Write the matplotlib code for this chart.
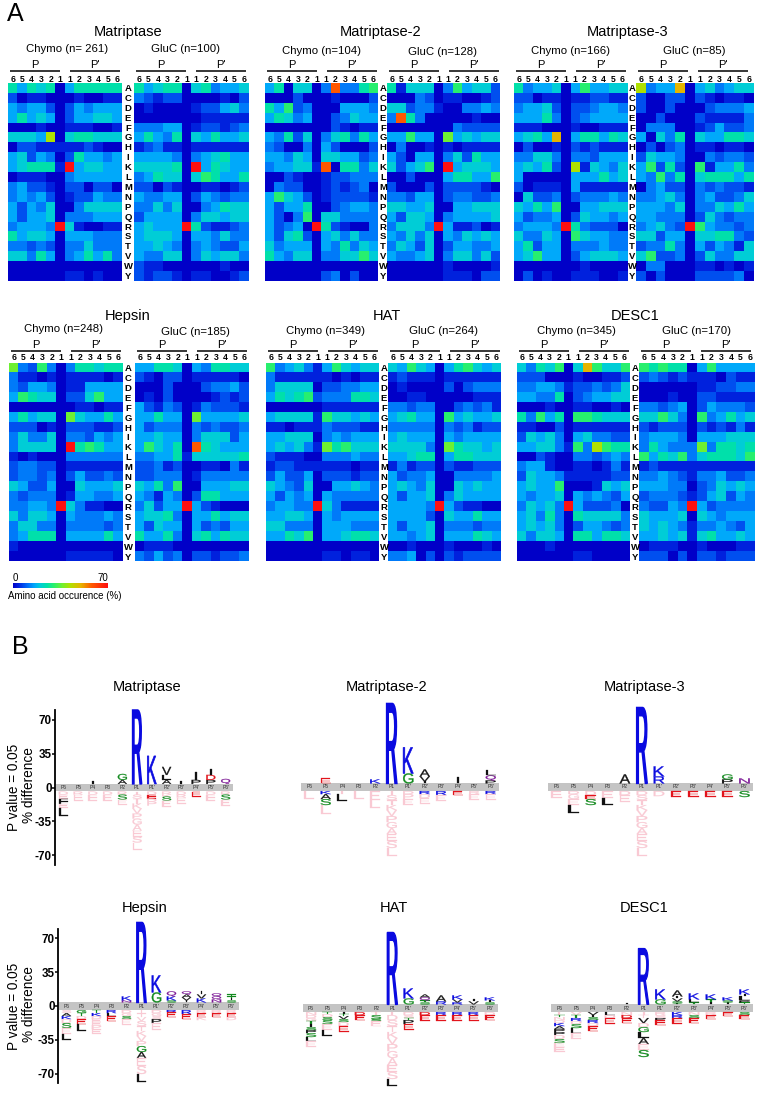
import matplotlib
matplotlib.use("Agg")
import matplotlib.pyplot as plt
import numpy as np
from matplotlib.colors import LinearSegmentedColormap, Normalize
from matplotlib.cm import ScalarMappable
from matplotlib.font_manager import FontProperties
from matplotlib.patches import PathPatch
from matplotlib.textpath import TextPath
from matplotlib.transforms import Affine2D

plt.rcParams['font.family'] = ['Liberation Sans', 'DejaVu Sans']

W, H = 765, 1106
residues = list("ACDEFGHIKLMNPQRSTVWY")
site_numbers = ['6', '5', '4', '3', '2', '1', '1', '2', '3', '4', '5', '6']
site_names = ['P6', 'P5', 'P4', 'P3', 'P2', 'P1', "P1'", "P2'", "P3'", "P4'", "P5'", "P6'"]

matriptase_chymo = [
 [25,16,25,20,25,0,16,25,25,25,25,25],[8,0,4,4,0,0,0,4,0,0,4,4],[16,12,16,16,8,0,8,16,12,16,16,16],
 [16,25,16,20,16,0,8,16,16,20,20,16],[0,0,0,4,0,0,4,4,4,0,0,4],[20,20,20,16,42,0,20,25,25,20,20,20],
 [0,8,8,4,4,4,4,4,8,4,0,0],[16,20,8,16,12,0,8,25,16,16,12,16],[16,20,25,25,25,4,70,16,20,20,16,16],
 [0,4,4,4,0,0,12,16,16,16,16,16],[12,16,8,8,4,0,8,8,0,8,8,0],[12,16,12,16,8,0,4,8,8,16,12,12],
 [16,8,16,12,20,0,0,12,20,20,20,20],[16,8,16,16,20,0,12,12,12,16,16,16],[12,16,16,16,12,70,20,4,0,0,4,4],
 [25,16,20,20,16,0,16,16,16,12,12,12],[12,12,8,12,8,0,12,12,20,12,12,12],[20,20,12,25,16,0,12,16,25,16,25,12],
 [0,0,0,0,0,0,0,0,0,0,0,0],[0,0,0,0,0,0,4,4,0,4,0,0]]
matriptase_gluc = [
 [25,16,20,25,25,0,20,25,12,16,16,20],[12,8,4,8,8,0,0,0,0,4,0,8],[0,4,0,0,0,0,4,8,8,16,20,12],
 [0,0,0,0,0,0,0,4,4,4,4,4],[12,12,12,16,16,0,4,8,8,4,8,12],[16,25,16,12,25,0,20,16,25,16,16,20],
 [4,8,12,4,4,0,4,4,4,4,4,4],[16,16,16,16,12,0,12,16,20,25,16,16],[20,20,20,20,25,0,70,16,25,20,16,16],
 [12,16,25,20,20,0,20,30,25,16,16,25],[8,8,0,8,4,0,0,4,4,0,4,8],[16,12,12,16,16,0,8,16,12,8,12,12],
 [12,12,20,12,20,0,0,12,16,25,20,20],[8,16,16,16,16,0,12,20,20,16,20,20],[16,20,16,16,16,70,25,8,4,4,8,12],
 [16,20,20,20,16,0,16,16,12,20,12,12],[16,16,20,16,12,0,12,16,12,8,8,16],[16,12,12,20,20,0,12,20,16,20,20,12],
 [8,4,4,0,0,0,0,0,0,4,0,0],[8,4,8,8,4,0,4,4,0,0,4,8]]
matriptase2_chymo = [
 [16,25,0,20,20,0,12,58,12,12,25,30],[0,0,0,8,0,0,0,4,0,0,0,8],[25,16,30,8,12,0,0,0,16,16,16,12],
 [16,25,20,12,16,0,0,8,12,20,16,16],[0,0,0,0,0,0,0,8,4,0,4,4],[16,12,25,8,20,0,12,20,25,12,25,16],
 [12,8,0,0,12,0,16,8,0,0,0,8],[16,16,12,20,16,0,20,20,16,16,8,12],[12,16,16,20,20,4,58,0,25,25,12,20],
 [0,0,8,4,0,0,4,8,8,12,12,12],[0,12,8,8,0,0,4,8,4,8,12,0],[16,30,20,16,8,0,4,8,8,8,8,4],
 [16,8,16,16,25,0,0,8,12,16,16,12],[16,8,0,12,30,0,20,20,12,12,12,12],[16,8,12,16,0,70,25,8,4,0,0,12],
 [16,8,20,25,8,0,16,20,12,20,12,12],[20,12,16,16,16,0,16,12,25,12,20,16],[25,16,12,20,20,0,12,12,20,20,30,20],
 [0,0,0,0,0,0,0,0,0,0,0,0],[0,0,0,0,0,0,8,12,0,8,0,0]]
matriptase2_gluc = [
 [25,4,20,20,20,0,12,30,16,20,20,8],[0,0,0,12,8,0,4,4,0,0,4,8],[20,20,8,12,12,4,0,0,12,12,16,12],
 [12,58,25,12,0,0,0,0,0,4,0,0],[0,0,0,0,0,0,0,12,8,8,8,8],[16,16,30,16,16,0,36,16,20,16,20,20],
 [0,12,0,0,4,0,4,0,4,4,4,4],[16,8,0,16,16,0,12,20,8,25,16,16],[20,8,16,20,30,0,70,16,20,20,20,16],
 [0,0,8,0,0,0,16,25,25,16,16,30],[8,0,0,0,8,0,8,8,8,8,4,0],[12,12,8,16,16,0,8,12,12,8,8,12],
 [20,20,16,16,20,0,0,16,16,20,20,20],[16,8,20,20,16,0,12,16,16,16,16,20],[12,20,20,20,12,70,16,4,4,8,0,4],
 [16,12,20,12,20,0,16,12,20,16,20,16],[12,20,16,8,20,0,8,16,16,12,12,16],[16,12,12,16,20,0,12,20,20,12,20,8],
 [0,0,0,0,0,0,4,0,0,0,0,4],[0,0,0,0,0,0,4,4,4,0,8,8]]
matriptase3_chymo = [
 [25,12,16,16,20,0,16,30,16,16,20,20],[8,8,0,4,4,0,4,4,8,8,4,4],[12,16,16,20,8,0,8,8,12,16,16,12],
 [16,16,16,25,12,0,8,12,16,16,16,16],[4,4,4,0,0,0,4,0,0,4,4,4],[16,20,25,16,50,0,16,25,25,16,25,20],
 [0,8,0,0,4,0,8,4,8,4,4,4],[12,12,20,20,12,0,12,12,8,16,16,16],[16,20,16,25,8,0,42,4,20,16,12,20],
 [16,0,0,0,0,0,16,16,16,25,16,20],[8,0,4,4,4,0,16,4,4,4,4,4],[0,20,8,8,12,0,8,12,12,12,16,12],
 [20,16,25,16,30,0,0,16,16,20,20,20],[16,8,12,12,16,0,8,20,16,16,12,16],[12,16,16,16,12,70,25,12,8,8,8,0],
 [20,12,12,20,16,0,30,20,16,16,12,12],[16,25,8,16,16,0,12,12,12,16,12,12],[16,20,30,16,16,0,8,16,20,20,20,16],
 [0,0,0,0,0,0,0,4,0,0,0,0],[0,8,0,4,0,0,4,4,4,0,0,4]]
matriptase3_gluc = [
 [42,12,16,16,50,0,16,20,12,16,20,20],[8,0,0,8,8,0,8,4,0,4,4,0],[8,0,0,8,0,0,0,8,12,12,12,16],
 [0,0,8,0,0,0,8,4,4,4,4,12],[0,12,12,12,0,0,4,8,16,8,8,12],[16,0,20,12,25,0,20,16,16,25,25,20],
 [0,8,0,8,12,0,4,4,0,4,4,0],[8,20,16,16,12,0,0,12,8,12,12,8],[16,30,8,25,8,0,30,4,16,16,25,12],
 [16,12,30,12,25,0,20,25,25,25,16,25],[0,12,16,8,8,0,12,8,12,8,8,4],[12,12,16,20,12,0,12,16,8,8,12,20],
 [16,16,16,12,20,0,12,12,20,16,25,16],[16,16,12,12,12,0,8,20,12,8,12,12],[12,16,20,12,8,70,30,16,12,12,8,12],
 [20,20,8,16,16,0,20,20,25,25,12,8],[8,12,12,25,12,0,16,8,16,12,4,20],[20,30,8,8,12,0,8,20,12,12,20,20],
 [0,12,12,0,0,0,4,4,0,4,0,4],[8,0,8,0,0,0,8,8,8,8,12,0]]
hepsin_chymo = [
 [36,12,8,30,12,0,12,25,25,20,25,25],[12,4,4,0,4,0,4,4,4,4,0,4],[12,8,16,16,12,0,4,4,16,16,16,16],
 [16,30,25,20,20,0,8,8,20,30,16,16],[0,0,0,0,0,0,0,4,4,0,4,4],[16,25,16,20,20,0,36,20,16,16,25,16],
 [8,8,8,0,4,0,8,8,8,4,4,8],[12,20,12,12,20,0,12,12,8,16,12,16],[12,20,20,20,20,0,70,25,30,25,16,16],
 [4,0,4,0,0,0,12,12,12,12,12,12],[8,12,12,8,8,0,4,4,4,4,4,4],[8,12,12,8,12,0,8,16,8,8,12,8],
 [20,16,8,8,16,0,0,20,16,16,16,20],[12,8,12,12,12,0,4,16,16,12,12,16],[12,12,16,16,12,70,20,12,4,4,0,0],
 [20,12,20,20,16,0,16,12,12,12,16,12],[12,20,20,12,12,0,12,12,12,12,8,12],[12,16,25,25,25,0,16,16,16,16,25,16],
 [4,0,0,0,0,0,0,0,0,0,0,0],[0,0,0,0,0,0,4,4,4,4,4,0]]
hepsin_gluc = [
 [16,16,25,25,20,0,16,12,25,25,20,20],[8,4,0,8,8,0,4,4,4,4,4,0],[0,0,0,8,0,0,0,8,12,12,16,8],
 [0,4,0,8,0,0,0,0,4,8,4,8],[16,8,4,12,8,0,4,12,8,8,8,4],[16,16,25,16,16,0,36,16,16,16,16,20],
 [16,8,12,12,12,0,12,8,12,8,8,12],[16,16,20,16,16,0,12,20,20,20,8,16],[16,30,20,16,25,0,58,25,20,16,16,16],
 [12,12,16,16,25,4,20,20,20,20,20,25],[8,8,12,4,8,0,0,4,4,0,12,4],[8,8,12,12,12,0,4,12,12,12,12,12],
 [20,16,25,12,30,0,0,16,16,16,20,20],[16,12,4,16,12,0,8,25,25,16,16,16],[12,20,8,16,16,70,16,8,4,0,0,0],
 [16,20,20,25,12,0,16,16,25,16,20,20],[16,8,20,16,16,0,16,8,12,8,16,16],[25,16,16,25,12,0,20,25,16,25,20,20],
 [0,4,4,4,0,0,0,0,0,0,0,0],[12,8,16,8,12,0,8,8,4,8,8,12]]
hat_chymo = [
 [30,12,16,20,12,4,16,30,20,16,20,20],[12,4,4,4,4,4,4,0,4,0,4,4],[12,20,20,20,20,0,8,8,12,12,16,16],
 [16,25,20,25,30,8,12,12,12,25,25,20],[0,0,0,0,0,0,4,4,4,4,4,4],[16,20,20,20,20,4,30,20,20,16,20,16],
 [4,4,0,4,4,4,12,8,8,8,4,4],[16,16,20,20,20,0,12,16,12,16,16,16],[16,20,16,20,12,4,36,25,30,20,20,20],
 [8,4,4,4,0,0,12,12,12,16,12,12],[4,8,8,4,4,4,4,4,4,0,4,4],[8,16,8,8,16,0,8,8,8,4,8,8],
 [20,16,12,8,20,0,0,16,16,20,16,12],[16,8,16,12,16,0,16,12,12,12,12,12],[12,16,16,12,12,70,20,12,4,4,4,4],
 [16,16,20,20,16,0,16,12,16,16,16,16],[20,20,12,12,12,0,16,16,16,12,12,12],[16,16,25,20,30,0,16,16,20,25,25,20],
 [0,0,0,0,0,0,0,0,0,0,0,0],[0,0,0,0,0,0,4,4,0,4,4,0]]
hat_gluc = [
 [20,16,30,20,16,0,16,25,30,20,16,20],[4,8,4,4,4,0,4,4,4,4,4,4],[0,4,0,0,0,0,8,0,8,12,12,12],
 [0,0,4,4,0,0,0,0,0,4,4,4],[12,12,8,12,12,0,0,8,12,8,12,4],[16,20,25,16,16,0,30,16,20,16,16,20],
 [12,12,12,12,12,0,12,8,12,4,8,8],[16,20,16,16,16,0,16,12,16,16,16,16],[20,20,20,20,12,0,36,25,20,20,16,20],
 [16,16,20,25,25,0,16,25,25,20,20,20],[4,12,4,8,8,0,8,4,4,8,8,8],[16,8,12,12,16,0,0,12,12,12,12,16],
 [16,20,16,12,20,0,0,20,16,20,16,16],[16,8,16,16,20,0,12,20,16,16,16,16],[16,16,16,16,12,70,16,8,4,4,0,0],
 [16,16,16,16,8,0,20,16,16,25,16,16],[16,8,16,16,20,0,12,12,12,8,12,12],[16,16,12,16,20,0,16,16,16,25,20,16],
 [0,0,4,0,0,0,4,0,0,0,4,0],[12,12,16,0,8,0,8,4,8,8,8,8]]
desc1_chymo = [
 [20,12,25,20,30,0,20,50,30,20,20,30],[8,8,8,0,0,0,4,0,0,4,4,8],[12,12,16,16,12,4,8,8,12,8,12,20],
 [16,16,12,12,25,0,8,12,16,16,20,20],[0,0,0,4,0,0,4,4,0,0,4,0],[25,12,30,16,25,0,30,30,25,20,20,20],
 [4,4,0,0,8,0,4,4,4,4,4,4],[8,20,16,20,12,0,16,20,12,12,8,8],[16,16,20,20,12,4,30,12,42,30,25,25],
 [0,0,8,4,0,0,12,12,8,12,16,12],[12,16,16,4,0,0,4,4,0,4,12,4],[8,20,16,16,12,4,4,4,4,4,8,8],
 [16,20,16,16,30,0,0,0,4,20,16,20],[16,12,16,16,20,0,16,12,16,12,8,16],[12,20,16,20,12,70,16,8,8,8,12,0],
 [16,20,12,25,12,0,25,20,20,20,20,12],[16,20,16,20,12,0,8,16,16,12,8,12],[20,12,20,20,16,0,25,25,16,25,25,20],
 [0,0,0,4,0,0,0,0,0,0,0,0],[0,0,0,0,0,0,4,4,0,0,0,0]]
desc1_gluc = [
 [30,25,30,25,25,0,16,30,16,16,16,16],[8,12,8,4,8,4,4,4,0,8,4,4],[0,0,0,0,0,0,4,4,8,8,12,12],
 [0,0,0,4,0,0,8,8,4,4,4,4],[12,12,8,12,16,0,8,16,12,12,12,8],[20,20,30,20,12,0,30,12,16,25,16,20],
 [8,4,8,8,8,0,8,4,8,4,12,4],[12,16,16,16,12,0,16,16,16,20,20,20],[12,25,16,12,12,12,36,12,25,25,20,25],
 [30,16,25,20,30,12,20,25,25,25,20,30],[4,8,4,4,4,4,4,4,4,4,4,4],[12,12,16,12,8,4,12,12,16,8,8,12],
 [16,16,16,12,12,0,8,12,20,16,20,16],[8,12,12,12,8,4,8,16,20,8,16,12],[12,8,8,16,12,70,16,8,12,12,12,12],
 [20,16,16,16,20,0,20,16,12,16,16,16],[20,16,20,16,12,4,12,12,16,12,8,16],[16,16,20,16,20,4,20,25,16,16,20,16],
 [0,4,4,4,0,0,4,0,0,0,4,4],[8,8,8,0,8,0,8,8,4,8,8,8]]

# Logo stacks, one list per site (P6 .. P6'). Upper case = significant, lower case = faded pink.
pink_p1 = [('i',3),('s',4),('t',5),('k',5),('v',5),('p',5),('g',6),('a',6),('e',6),('s',6),('l',7)]
logo_matriptase_up = [[],[],[('I',3)],[],[('A',4),('G',6)],[('R',74)],[('K',28)],[('A',4),('L',5),('V',8)],[('I',3)],[('P',4),('I',8)],[('P',4),('D',5),('I',6)],[('Q',5)]]
logo_matriptase_down = [[('d',3),('e',4),('F',5),('e',4),('L',8)],[('r',3),('e',6)],[('d',3),('e',6)],[('d',3),('e',6)],[('r',3),('S',5),('e',5)],pink_p1,[('d',3),('E',4),('d',3),('p',4)],[('r',3),('k',2),('S',4),('e',6)],[('d',3),('r',3),('e',6)],[('E',5)],[('d',3),('e',6)],[('r',3),('S',5),('e',6)]]
logo_matriptase2_up = [[],[('E',5)],[],[],[('K',4)],[('R',80)],[('G',10),('K',26)],[('I',2),('V',5),('A',7)],[],[('I',6)],[],[('P',3),('Q',5),('L',5)]]
logo_matriptase2_down = [[('l',8)],[('K',3),('A',5),('S',6),('l',9)],[('i',3),('L',7)],[('l',8)],[('e',9),('l',8)],[('i',4),('s',5),('t',5),('k',5),('v',6),('p',6),('g',6),('a',6),('e',7),('s',7),('l',8)],[('d',3),('p',5),('e',6)],[('R',3),('d',4),('e',6)],[('R',4),('e',6)],[('E',4)],[('r',3),('e',6)],[('R',3),('e',6)]]
logo_matriptase3_up = [[],[],[],[],[('A',9)],[('R',76)],[('R',7),('K',10)],[],[],[],[('P',4),('G',5)],[('N',5)]]
logo_matriptase3_down = [[('e',7)],[('d',3),('g',5),('e',6),('L',8)],[('d',4),('E',4),('S',6)],[('e',7),('L',7)],[('d',4),('e',7)],[('d',4),('s',5),('t',5),('k',5),('v',6),('p',6),('g',6),('a',6),('e',7),('s',7),('l',8)],[('d',5)],[('E',6)],[('E',6)],[('E',6)],[('E',6)],[('S',6)]]
logo_hepsin_up = [[],[],[],[],[('N',2),('K',4)],[('R',80)],[('G',10),('K',17)],[('S',2),('K',4),('Q',5)],[('I',2),('V',3),('A',3),('Q',3)],[('K',4),('V',4),('I',3)],[('N',3),('Q',3),('Q',3)],[('S',2),('I',2),('T',2),('T',2)]]
logo_hepsin_down = [[('s',3),('A',3),('K',3),('d',4),('S',5),('e',6),('L',6)],[('G',3),('T',3),('d',3),('E',5),('L',7)],[('T',3),('K',3),('d',3),('e',3),('e',3),('p',4),('e',5)],[('R',3),('L',3),('E',5)],[('d',3),('g',3),('S',3),('e',6)],[('i',3),('t',4),('v',4),('s',5),('t',5),('k',5),('v',5),('p',5),('G',6),('A',6),('e',8),('s',8),('L',8)],[('d',3),('g',3),('s',3),('P',4),('e',7)],[('R',2),('E',5)],[('R',4),('E',5)],[('r',3),('E',4),('k',3)],[('r',3),('E',4)],[('r',3),('E',4),('d',3)]]
logo_hat_up = [[],[],[],[],[],[('R',72)],[('G',6),('K',10)],[('S',2),('T',2),('Q',3),('A',3)],[('R',3),('A',6)],[('R',2),('V',3),('K',4)],[('V',3),('I',2)],[('S',2),('I',2),('K',3)]]
logo_hat_down = [[('n',3),('d',3),('g',3),('T',3),('I',3),('S',3),('P',3),('S',4),('L',4),('e',6)],[('T',2),('d',3),('S',3),('S',4),('e',6),('L',6)],[('I',2),('T',2),('V',3),('S',3),('d',4),('E',6)],[('D',3),('E',5)],[('t',3),('S',4),('S',2),('e',5)],[('i',3),('d',5),('s',6),('t',6),('k',6),('v',6),('p',7),('g',7),('a',7),('e',7),('s',7),('L',7)],[('d',3),('s',3),('T',2),('P',4),('E',6)],[('D',3),('E',6)],[('R',3),('E',6)],[('R',3),('E',6)],[('R',3),('E',6)],[('d',3),('E',5)]]
logo_desc1_up = [[],[],[],[],[('I',1)],[('R',56)],[('G',5),('K',10)],[('I',1),('S',2),('V',3),('I',2),('A',6)],[('T',2),('L',3),('K',6)],[('I',2),('T',3),('K',5)],[('I',2),('S',2),('K',3)],[('T',2),('P',2),('L',4),('I',2),('K',5)]]
logo_desc1_down = [[('i',3),('T',2),('n',3),('d',3),('K',3),('A',3),('P',3),('P',3),('d',4),('S',4),('e',4),('e',5)],[('v',3),('T',3),('R',3),('d',3),('S',4),('L',5),('e',6)],[('V',3),('I',2),('S',3),('R',3),('d',3),('E',5)],[('L',3),('d',3),('E',6)],[('n',3),('D',3),('E',5)],[('i',3),('t',3),('V',5),('d',4),('G',5),('L',6),('A',6),('e',6),('S',7)],[('r',3),('s',3),('P',2),('E',5)],[('K',3),('R',3),('E',6)],[('n',3),('S',3),('E',5)],[('r',3),('E',4)],[('E',4)],[('S',3),('E',4)]]
logo_ticks = [70, 35, 0, -35, -70]

cmap_levels = [0, 4, 8, 12, 16, 20, 25, 30, 36, 42, 50, 58, 70]
cmap_colors = [(0,0,200),(0,35,222),(0,80,240),(0,125,250),(0,170,250),(0,205,215),(0,225,170),
               (40,240,110),(110,240,50),(175,225,0),(230,180,0),(255,90,0),(255,15,15)]
cmap = LinearSegmentedColormap.from_list('occ', [(v/70, tuple(c/255 for c in col)) for v, col in zip(cmap_levels, cmap_colors)])
norm = Normalize(0, 70)

fig = plt.figure(figsize=(W/100, H/100), dpi=100)

def px_axes(x0, y0, x1, y1, **kw):
    return fig.add_axes([x0/W, 1-y1/H, (x1-x0)/W, (y1-y0)/H], **kw)

ov = px_axes(0, 0, W, H)
ov.set_xlim(0, W); ov.set_ylim(H, 0); ov.axis('off'); ov.set_zorder(5)

def T(x, y, s, size, **kw):
    kw.setdefault('ha', 'center'); kw.setdefault('va', 'center')
    ov.text(x, y, s, fontsize=size, **kw)

T(7, 14, 'A', 18, ha='left')
T(12, 647, 'B', 18, ha='left')

# title, title_x, title_y, letter_x, sub-label rows, heatmap spans
top = dict(y0=83, y1=281, P=65, line=71, num=80)
bot = dict(y0=363, y1=561.5, P=345, line=351, num=358)
heat_panels = [
 ('Matriptase', 128, 32, 128, top, (8,122,'Chymo (n= 261)',67,49,matriptase_chymo), (134,249,'GluC (n=100)',186,49,matriptase_gluc)),
 ('Matriptase-2', 381, 32, 383, top, (265,378,'Chymo (n=104)',322,51,matriptase2_chymo), (387,500,'GluC (n=128)',443,52,matriptase2_gluc)),
 ('Matriptase-3', 628, 32, 632, top, (514,627,'Chymo (n=166)',571,51,matriptase3_chymo), (636,754,'GluC (n=85)',694,51,matriptase3_gluc)),
 ('Hepsin', 128, 316, 128, bot, (9,123,'Chymo (n=248)',64,329,hepsin_chymo), (135,249,'GluC (n=185)',195,332,hepsin_gluc)),
 ('HAT', 387, 316, 384, bot, (266,379,'Chymo (n=349)',326,331,hat_chymo), (388,501,'GluC (n=264)',444,331,hat_gluc)),
 ('DESC1', 635, 316, 635, bot, (517,629,'Chymo (n=345)',576,331,desc1_chymo), (639,755,'GluC (n=170)',697,331,desc1_gluc)),
]

for title, tx, ty, lx, g, *blocks in heat_panels:
    T(tx, ty, title, 10.5)
    cell_h = (g['y1']-g['y0'])/len(residues)
    for i, r in enumerate(residues):
        T(lx, g['y0']+(i+0.5)*cell_h+0.5, r, 6.8, fontweight='bold')
    for x0, x1, sub, sx, sy, vals in blocks:
        T(sx, sy, sub, 8.2)
        ax = px_axes(x0, g['y0'], x1, g['y1'])
        ax.imshow(np.array(vals), cmap=cmap, norm=norm, aspect='auto', interpolation='nearest')
        ax.axis('off')
        cw = (x1-x0)/12
        for j, n in enumerate(site_numbers):
            T(x0+(j+0.5)*cw, g['num'], n, 6.2, fontweight='bold')
        for a, b, lab in [(2, 52, 'P'), (62, 112, "P'")]:
            ov.plot([x0+a, x0+b], [g['line']]*2, color='black', lw=1.1, solid_capstyle='butt')
            T(x0+(a+b)/2, g['P'], lab, 8)

# colour bar
cax = px_axes(13, 583, 108, 588)
cb = fig.colorbar(ScalarMappable(norm=norm, cmap=cmap), cax=cax, orientation='horizontal')
cb.set_ticks([]); cb.outline.set_visible(False)
T(15, 578, '0', 7)
T(103, 578, '70', 7)
T(8, 596, 'Amino acid occurence (%)', 7, ha='left')

# sequence logos
def letter_color(ch):
    if ch.islower():
        return '#f9c9d3'
    if ch in 'KRH':
        return '#0a0ae0'
    if ch in 'DE':
        return '#e2141c'
    if ch in 'GSTCY':
        return '#128a1e'
    if ch in 'NQ':
        return '#7d1a96'
    return '#111111'

fp = FontProperties(family='Liberation Sans')
PX_PER_PCT = 0.97
BAND = 3.7

def draw_letter(ax, ch, xc, y, h):
    up = ch.upper()
    tp = TextPath((0, 0), up, size=1, prop=fp)
    bb = tp.get_extents()
    w = 0.12 if up == 'I' else 0.62
    tr = (Affine2D().translate(-bb.x0, -bb.y0).scale(w/bb.width, h/bb.height)
          .translate(xc-w/2, y))
    col = letter_color(ch)
    ax.add_patch(PathPatch(tr.transform_path(tp), fc=col, ec=col, lw=0.12+0.012*h, zorder=3))

logo_panels = [
 ('Matriptase', 147, 687, 56, 233, 787.5, logo_matriptase_up, logo_matriptase_down, True),
 ('Matriptase-2', 387, 687, 301, 499, 787, logo_matriptase2_up, logo_matriptase2_down, False),
 ('Matriptase-3', 645, 687, 548, 753, 787, logo_matriptase3_up, logo_matriptase3_down, False),
 ('Hepsin', 145, 908, 59, 239, 1006, logo_hepsin_up, logo_hepsin_down, True),
 ('HAT', 394, 908, 303, 498, 1008, logo_hat_up, logo_hat_down, False),
 ('DESC1', 644, 908, 551, 753, 1008, logo_desc1_up, logo_desc1_down, False),
]
LIM = 92
for title, tx, ty, x0, x1, yc, ups, downs, show_axis in logo_panels:
    T(tx, ty, title, 10.5)
    span = LIM*PX_PER_PCT
    ax = px_axes(x0, yc-span, x1, yc+span)
    ax.set_xlim(-0.5, 11.5); ax.set_ylim(-LIM, LIM)
    ax.patch.set_visible(False)
    for s in ('top', 'right', 'bottom'):
        ax.spines[s].set_visible(False)
    ax.set_xticks([])
    ax.axhspan(-BAND, BAND, color='#c4c4c4', lw=0, zorder=1)
    for i, name in enumerate(site_names):
        ax.text(i, 0, name, ha='center', va='center', fontsize=3.6, color='#333333', zorder=2)
        y = BAND
        for ch, h in ups[i]:
            draw_letter(ax, ch, i, y, h*1.03)
            y += h*1.03
        y = -BAND - 0.5
        for ch, h in downs[i]:
            draw_letter(ax, ch, i, y-h*1.03, h*1.03)
            y -= h*1.03
    if show_axis:
        ax.spines['left'].set_bounds(-79.5, 79.5)
        ax.spines['left'].set_linewidth(1.3)
        ax.spines['left'].set_position(('outward', 1))
        ax.set_yticks(logo_ticks)
        ax.set_yticklabels([str(v) for v in logo_ticks], fontsize=8.4, fontweight='bold')
        ax.tick_params(axis='y', length=2, width=1.1, pad=0)
        T(14, yc, 'P value = 0.05', 9.8, rotation=90)
        T(29, yc-2, '% difference', 9.8, rotation=90)
    else:
        ax.spines['left'].set_visible(False)
        ax.set_yticks([])

fig.savefig('out.png', dpi=100)
